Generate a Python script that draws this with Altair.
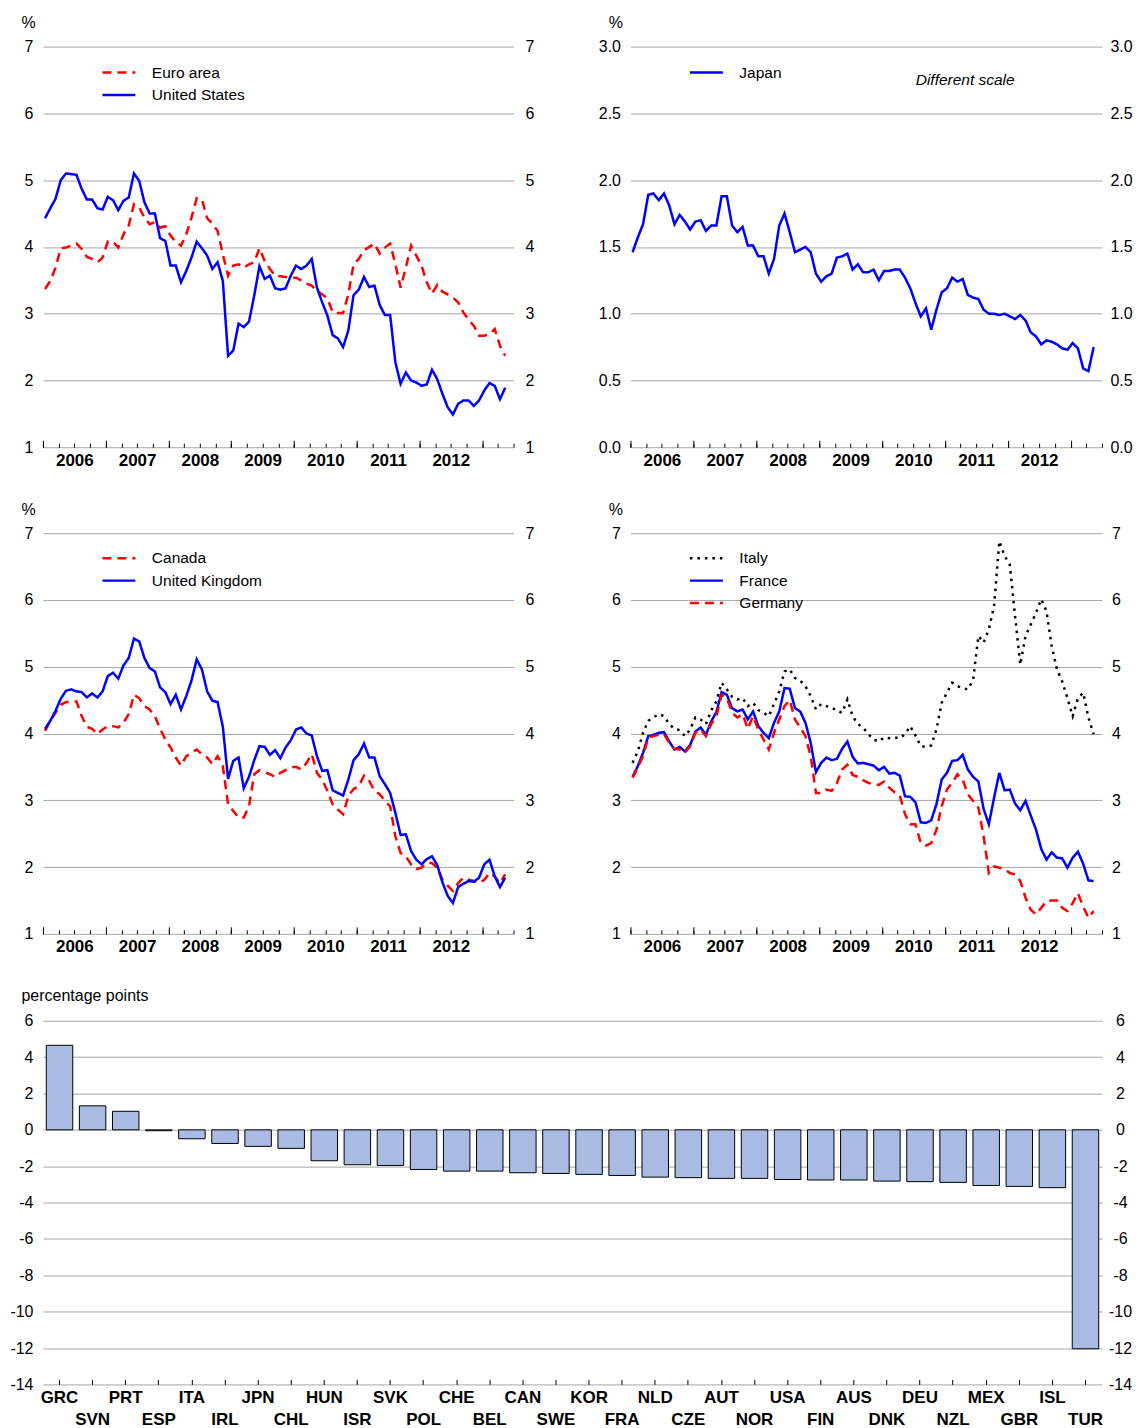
import altair as alt
import pandas as pd

FONT = "Liberation Sans"

# ---------------- data (monthly, Jan 2006 - May 2013) ----------------
EURO_AREA = [3.37,3.49,3.69,3.98,3.99,4.02,4.05,3.97,3.85,3.82,
             3.77,3.84,4.08,4.08,3.99,4.19,4.32,4.64,4.59,4.44,
             4.34,4.37,4.29,4.31,4.17,4.07,4.02,4.19,4.44,4.73,
             4.71,4.43,4.35,4.24,3.89,3.57,3.72,3.74,3.69,3.74,
             3.77,3.98,3.79,3.67,3.57,3.56,3.55,3.54,3.54,3.50,
             3.45,3.42,3.34,3.29,3.23,3.02,3.01,3.01,3.29,3.74,
             3.82,3.95,4.00,4.05,3.90,3.99,4.05,3.74,3.39,3.69,
             4.02,3.87,3.72,3.47,3.30,3.43,3.33,3.29,3.24,3.17,
             3.02,2.91,2.82,2.67,2.67,2.70,2.77,2.52,2.37]
UNITED_STATES = [4.43,4.58,4.72,5.00,5.10,5.09,5.08,4.87,4.71,4.71,
                 4.58,4.56,4.75,4.70,4.55,4.69,4.74,5.10,4.99,4.67,
                 4.50,4.50,4.13,4.09,3.72,3.72,3.47,3.64,3.84,4.08,
                 3.98,3.87,3.67,3.77,3.49,2.37,2.45,2.85,2.80,2.88,
                 3.27,3.71,3.52,3.57,3.38,3.36,3.38,3.57,3.72,3.67,
                 3.72,3.82,3.39,3.17,2.97,2.68,2.63,2.50,2.75,3.28,
                 3.36,3.55,3.40,3.42,3.13,2.98,2.98,2.27,1.95,2.12,
                 2.00,1.97,1.92,1.94,2.16,2.02,1.80,1.60,1.49,1.65,
                 1.70,1.70,1.62,1.70,1.85,1.96,1.92,1.72,1.89]
JAPAN = [1.46,1.57,1.67,1.89,1.90,1.85,1.90,1.81,1.67,1.74,
         1.69,1.63,1.69,1.70,1.62,1.66,1.66,1.88,1.88,1.66,
         1.61,1.65,1.51,1.51,1.43,1.43,1.30,1.41,1.66,1.75,
         1.61,1.46,1.48,1.50,1.46,1.30,1.24,1.28,1.30,1.42,
         1.43,1.45,1.33,1.37,1.31,1.31,1.33,1.25,1.32,1.32,
         1.33,1.33,1.27,1.19,1.08,0.98,1.04,0.88,1.03,1.16,
         1.19,1.27,1.24,1.26,1.14,1.12,1.11,1.03,1.00,1.00,
         0.99,1.00,0.98,0.96,0.99,0.95,0.86,0.83,0.77,0.80,
         0.79,0.77,0.74,0.73,0.78,0.74,0.59,0.57,0.75]
CANADA = [4.04,4.19,4.31,4.43,4.47,4.47,4.48,4.26,4.10,4.07,
          3.99,4.06,4.11,4.11,4.09,4.16,4.29,4.58,4.53,4.41,
          4.36,4.26,4.07,3.91,3.79,3.64,3.52,3.66,3.71,3.76,
          3.69,3.64,3.54,3.66,3.51,2.94,2.84,2.74,2.74,2.91,
          3.39,3.45,3.42,3.39,3.35,3.41,3.45,3.49,3.50,3.46,
          3.56,3.69,3.41,3.31,3.14,2.94,2.86,2.79,3.06,3.17,
          3.21,3.37,3.29,3.14,3.09,2.99,2.91,2.46,2.21,2.16,
          2.04,1.97,1.99,2.06,2.06,1.99,1.81,1.72,1.64,1.76,
          1.84,1.81,1.79,1.76,1.81,1.91,1.86,1.76,1.89]
UNITED_KINGDOM = [4.07,4.19,4.34,4.52,4.64,4.66,4.63,4.62,4.54,4.60,
                  4.54,4.63,4.86,4.91,4.82,5.02,5.13,5.42,5.38,5.13,
                  4.98,4.93,4.69,4.62,4.44,4.58,4.36,4.56,4.79,5.11,
                  4.96,4.63,4.49,4.47,4.10,3.32,3.59,3.64,3.18,3.35,
                  3.60,3.81,3.80,3.68,3.75,3.63,3.79,3.90,4.06,4.09,
                  4.00,3.97,3.66,3.44,3.45,3.15,3.11,3.07,3.31,3.60,
                  3.69,3.85,3.64,3.64,3.36,3.24,3.11,2.81,2.48,2.49,
                  2.24,2.11,2.04,2.12,2.16,2.03,1.77,1.57,1.46,1.70,
                  1.75,1.79,1.78,1.84,2.04,2.11,1.86,1.70,1.84]
ITALY = [3.56,3.73,4.01,4.19,4.24,4.29,4.26,4.14,4.07,4.05,
         3.96,4.06,4.24,4.21,4.14,4.34,4.48,4.76,4.66,4.55,
         4.51,4.53,4.41,4.46,4.35,4.31,4.26,4.44,4.63,4.93,
         4.96,4.83,4.79,4.71,4.56,4.36,4.44,4.41,4.39,4.34,
         4.31,4.51,4.26,4.14,4.09,3.99,3.91,3.88,3.94,3.93,
         3.94,3.93,3.99,4.11,3.97,3.81,3.80,3.82,4.06,4.46,
         4.61,4.76,4.71,4.68,4.66,4.80,5.46,5.36,5.56,5.91,
         6.88,6.66,6.53,5.76,5.03,5.46,5.63,5.81,6.01,5.83,
         5.31,4.96,4.78,4.53,4.26,4.53,4.61,4.24,3.99]
FRANCE = [3.35,3.51,3.71,3.96,3.98,4.01,4.02,3.88,3.76,3.80,
          3.73,3.83,4.03,4.09,3.98,4.18,4.32,4.62,4.58,4.38,
          4.33,4.36,4.21,4.33,4.11,4.01,3.93,4.16,4.33,4.68,
          4.67,4.38,4.33,4.16,3.86,3.42,3.56,3.64,3.60,3.62,
          3.77,3.88,3.65,3.55,3.56,3.54,3.52,3.45,3.50,3.40,
          3.41,3.37,3.06,3.05,2.97,2.67,2.66,2.70,2.94,3.31,
          3.41,3.59,3.60,3.68,3.46,3.35,3.28,2.87,2.64,3.04,
          3.41,3.15,3.16,2.95,2.85,2.99,2.77,2.56,2.27,2.11,
          2.22,2.14,2.13,1.99,2.14,2.23,2.05,1.80,1.79]
GERMANY = [3.34,3.49,3.66,3.94,3.96,3.98,3.99,3.86,3.77,3.76,
           3.71,3.81,4.01,4.06,3.96,4.14,4.26,4.58,4.53,4.31,
           4.24,4.29,4.07,4.26,4.06,3.91,3.76,4.01,4.21,4.41,
           4.50,4.21,4.09,3.96,3.66,3.11,3.11,3.16,3.14,3.26,
           3.46,3.53,3.38,3.35,3.30,3.26,3.24,3.23,3.28,3.19,
           3.12,3.07,2.79,2.64,2.64,2.36,2.32,2.36,2.56,2.91,
           3.16,3.26,3.39,3.31,3.09,2.99,2.89,2.46,1.91,2.01,
           1.99,1.97,1.91,1.89,1.79,1.54,1.36,1.29,1.39,1.49,
           1.50,1.50,1.39,1.34,1.46,1.61,1.41,1.24,1.34]

COUNTRIES = ["GRC","SVN","PRT","ESP","ITA","IRL","JPN","CHL","HUN","ISR","SVK",
             "POL","CHE","BEL","CAN","SWE","KOR","FRA","NLD","CZE","AUT","NOR",
             "USA","FIN","AUS","DNK","DEU","NZL","MEX","GBR","ISL","TUR"]
CHANGE = [4.65,1.32,1.02,-0.05,-0.49,-0.75,-0.91,-1.02,-1.70,-1.92,-1.96,
          -2.18,-2.27,-2.27,-2.36,-2.40,-2.45,-2.51,-2.60,-2.63,-2.67,-2.67,
          -2.73,-2.76,-2.76,-2.82,-2.85,-2.89,-3.06,-3.11,-3.18,-12.04]

YEAR_TICKS = list(range(2006, 2014))
QUARTER_TICKS = [y + q / 4 for y in range(2006, 2014) for q in range(4) if y + q / 4 <= 2013.5]
YEAR_LABELS = [y + 0.5 for y in range(2006, 2013)]

GRID = "#a6a6a6"
BLUE, RED, BLACK = "#0000ff", "#ff0000", "#000000"
H = 401


def long_df(series):
    rows = []
    for name, vals in series.items():
        for i, v in enumerate(vals):
            rows.append({"t": 2006 + (i + 0.4) / 12, "value": v, "series": name})
    return pd.DataFrame(rows)


def line_panel(series, colors, dashes, ydomain, yvalues, ylabel_expr, legend_y, width,
               right_pad, note=None):
    df = long_df(series)
    names = list(series.keys())
    xs = alt.Scale(domain=[2006, 2013.5], nice=False, zero=False)
    ys = alt.Scale(domain=ydomain, nice=False, zero=False)
    leg = alt.Legend(title=None, orient="none", legendX=58, legendY=legend_y,
                     symbolType="stroke", symbolSize=1089, symbolStrokeWidth=2.5,
                     labelFontSize=15.5, labelOffset=15, clipHeight=16, rowPadding=5.5,
                     padding=0, labelColor="black", labelFont=FONT)
    base = alt.Chart(df)
    lines = base.mark_line(strokeWidth=2.5).encode(
        x=alt.X("t:Q", scale=xs, axis=alt.Axis(
            values=YEAR_LABELS, labelExpr="floor(datum.value)", ticks=False, domain=False,
            grid=False, labelFontWeight="bold", labelFontSize=17, labelPadding=5,
            labelFlush=False, title=None, orient="bottom", labelColor="black")),
        y=alt.Y("value:Q", scale=ys, axis=alt.Axis(
            values=yvalues, labelExpr=ylabel_expr, grid=True, gridColor=GRID, domain=False,
            ticks=False, labelPadding=10, labelFontSize=16, labelColor="black",
            title="%", titleAngle=0, titleX=-15, titleY=-24, titleAlign="center",
            titleBaseline="middle", titleFontWeight="normal", titleFontSize=16,
            orient="left")),
        color=alt.Color("series:N", scale=alt.Scale(domain=names, range=colors), legend=leg),
        strokeDash=alt.StrokeDash("series:N", scale=alt.Scale(domain=names, range=dashes), legend=leg),
    )
    right_axis_kw = dict(values=yvalues, labelExpr=ylabel_expr, orient="right", grid=False,
                         domain=False, ticks=False, labelPadding=right_pad, labelAlign="center",
                         labelFontSize=16, labelColor="black")
    if note is not None:
        right_axis_kw.update(title=note, titleAngle=0, titleX=-88, titleY=33,
                             titleAlign="right", titleBaseline="middle",
                             titleFontStyle="italic", titleFontWeight="normal",
                             titleFontSize=15.5, titleColor="black")
    else:
        right_axis_kw.update(title=None)
    right = base.mark_line(strokeOpacity=0).encode(
        x=alt.X("t:Q", scale=xs, axis=alt.Axis(
            values=YEAR_TICKS, labels=False, ticks=True, tickSize=7, tickColor="black",
            domain=False, grid=False, orient="top", offset=-H, title=None)),
        y=alt.Y("value:Q", scale=ys, axis=alt.Axis(**right_axis_kw)),
        detail="series:N",
    )
    minor = base.mark_line(strokeOpacity=0).encode(
        x=alt.X("t:Q", scale=xs, axis=alt.Axis(
            values=QUARTER_TICKS, labels=False, ticks=True, tickSize=4, tickColor="black",
            domain=False, grid=False, orient="top", offset=-H, title=None)),
        y=alt.Y("value:Q", scale=ys, axis=None),
        detail="series:N",
    )
    ch = alt.layer(lines, right, minor).resolve_axis(x="independent", y="independent")
    return ch.properties(width=width, height=H)


INT_LABEL = "toString(datum.value)"
DEC_LABEL = "format(datum.value, '.1f')"

tl = line_panel({"Euro area": EURO_AREA, "United States": UNITED_STATES},
                [RED, BLUE], [[9, 6], [1, 0]], [1, 7], list(range(1, 8)), INT_LABEL, 18, 471, 16)
tr = line_panel({"Japan": JAPAN}, [BLUE], [[1, 0]], [0, 3],
                [0, 0.5, 1, 1.5, 2, 2.5, 3], DEC_LABEL, 18, 472, 19, note="Different scale")
bl = line_panel({"Canada": CANADA, "United Kingdom": UNITED_KINGDOM},
                [RED, BLUE], [[9, 6], [1, 0]], [1, 7], list(range(1, 8)), INT_LABEL, 17, 471, 16)
br = line_panel({"Italy": ITALY, "France": FRANCE, "Germany": GERMANY},
                [BLACK, BLUE, RED], [[2.5, 5], [1, 0], [9, 6]], [1, 7], list(range(1, 8)),
                INT_LABEL, 17, 472, 14)

# ---------------- bar chart ----------------
bar_df = pd.DataFrame({"country": COUNTRIES, "value": CHANGE})
BH = 364
bxs = alt.Scale(domain=COUNTRIES, paddingInner=0.2, paddingOuter=0.1)
bys = alt.Scale(domain=[-14, 6], nice=False, zero=False)
YV = list(range(-14, 7, 2))
bbase = alt.Chart(bar_df)
bars = bbase.mark_bar(fill="#a9bbe3", stroke="black", strokeWidth=1).encode(
    x=alt.X("country:N", scale=bxs, sort=None, axis=alt.Axis(
        values=COUNTRIES[0::2], ticks=False, domain=False, labelAngle=0,
        labelFontWeight="bold", labelFontSize=17, labelPadding=5, title=None,
        orient="bottom", labelColor="black")),
    y=alt.Y("value:Q", scale=bys, axis=alt.Axis(
        values=YV, labelExpr=INT_LABEL, grid=True, gridColor=GRID, domain=False, ticks=False,
        labelPadding=10, labelFontSize=16, labelColor="black",
        title="percentage points", titleAngle=0, titleX=-22, titleY=-25,
        titleAlign="left", titleBaseline="middle", titleFontWeight="normal",
        titleFontSize=16, orient="left")),
)
bars_odd = bbase.mark_bar(opacity=0).encode(
    x=alt.X("country:N", scale=bxs, sort=None, axis=alt.Axis(
        values=COUNTRIES[1::2], ticks=False, domain=False, labelAngle=0,
        labelFontWeight="bold", labelFontSize=17, labelPadding=27, title=None,
        orient="bottom", labelColor="black")),
    y=alt.Y("value:Q", scale=bys, axis=alt.Axis(
        values=YV, labelExpr=INT_LABEL, orient="right", grid=False, domain=False,
        ticks=False, labelPadding=18, labelAlign="center", labelFontSize=16,
        labelColor="black", title=None)),
)
bars_ticks = bbase.mark_bar(opacity=0).encode(
    x=alt.X("country:N", scale=bxs, sort=None, axis=alt.Axis(
        labels=False, ticks=True, tickSize=5, tickColor="black", domain=False,
        grid=False, orient="top", offset=-BH, title=None)),
    y=alt.Y("value:Q", scale=bys, axis=None),
)
bar = alt.layer(bars, bars_odd, bars_ticks).resolve_axis(
    x="independent", y="independent").properties(width=1060, height=BH)

top = alt.hconcat(tl, tr, spacing=117, bounds="flush").resolve_scale(
    color="independent", strokeDash="independent")
mid = alt.hconcat(bl, br, spacing=117, bounds="flush").resolve_scale(
    color="independent", strokeDash="independent")
chart = alt.vconcat(top, mid, bar, spacing=33).resolve_scale(
    color="independent", strokeDash="independent").configure(
    font=FONT, padding={"left": 1, "top": 6, "right": 0, "bottom": 5}
).configure_view(stroke=None)

chart.save("out.html", embed_options={"renderer": "svg", "actions": False})
